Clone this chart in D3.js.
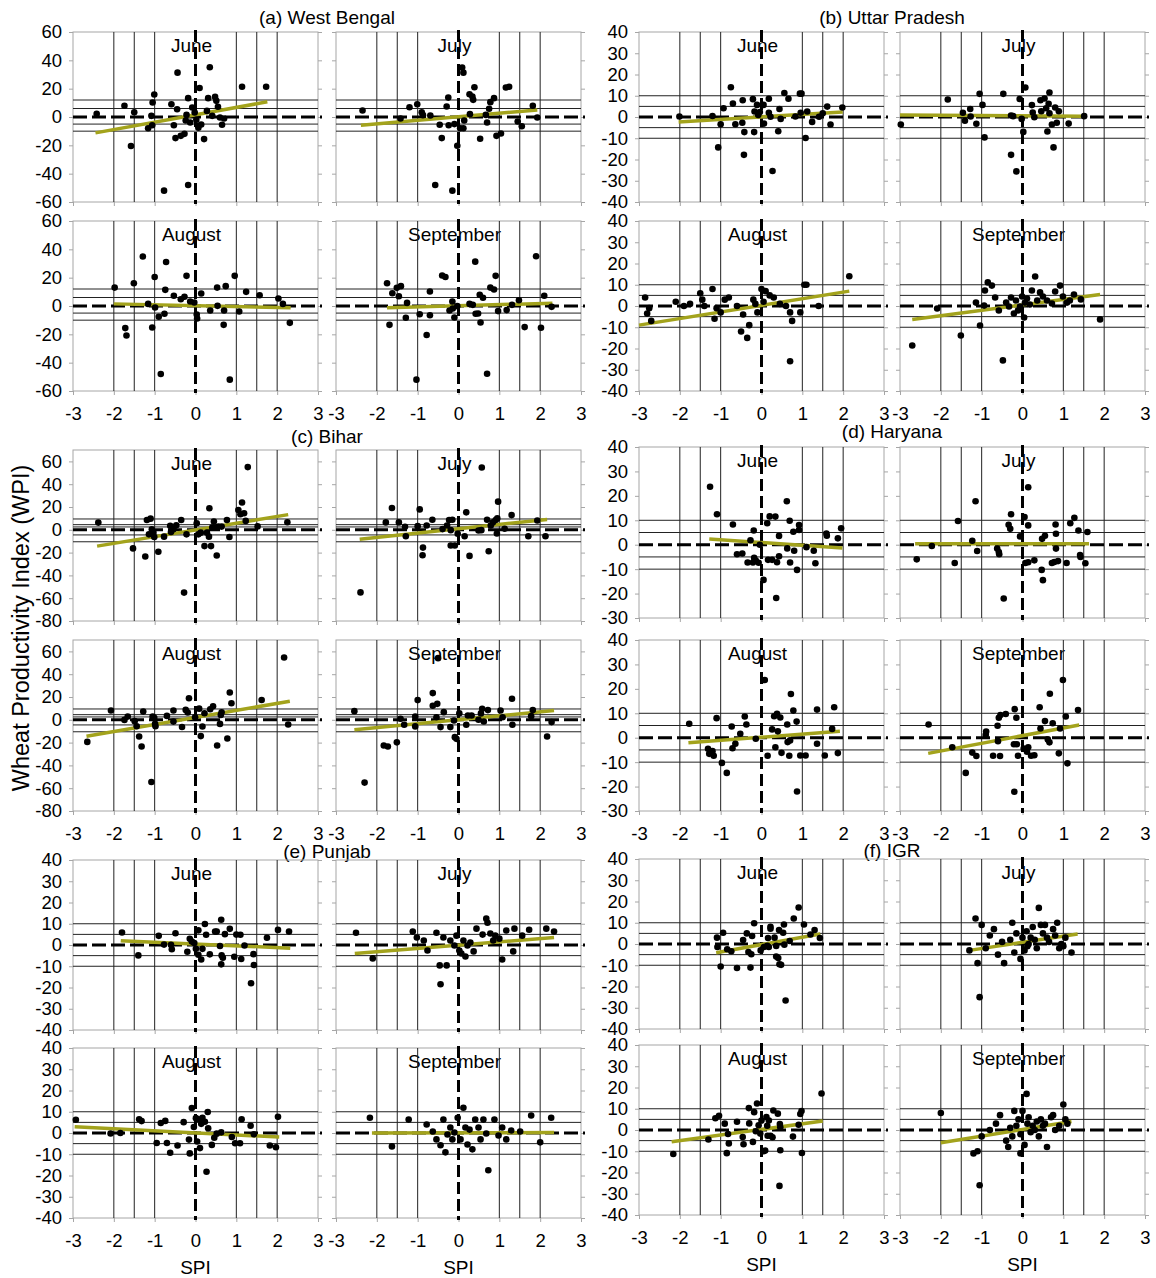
<!DOCTYPE html>
<html>
<head>
<meta charset="utf-8">
<script src="https://cdn.jsdelivr.net/npm/d3@7"></script>
<style>
  body { margin: 0; background: #fff; }
  svg text { font-family: "Liberation Sans", Arial, sans-serif; }
</style>
</head>
<body>
<svg id="chart" width="1156" height="1278"></svg>
<script>
/**************************************************
 * Data
 **************************************************/

const months = ["June", "July", "August", "September"];
const regionTitles = ["(a) West Bengal", "(b) Uttar Pradesh", "(c) Bihar", "(d) Haryana", "(e) Punjab", "(f) IGR"];
const spiTicks = [-3, -2, -1, 0, 1, 2, 3];
const spiLevels = [-2, -1.5, -1, 1, 1.5, 2];

// y ranges, tick labels and WPI threshold lines per region
const wbRange = [-60, 60], wbTicks = [-60, -40, -20, 0, 20, 40, 60], wbLevels = [12, 6, -5, -10];
const upRange = [-40, 40], upTicks = [-40, -30, -20, -10, 0, 10, 20, 30, 40], upLevels = [10, 5, -5, -10];
const biRange = [-80, 70], biTicks = [-80, -60, -40, -20, 0, 20, 40, 60], biLevels = [9.5, 4.5, 2.5, -4.5, -10.5];
const haRange = [-30, 40], haTicks = [-30, -20, -10, 0, 10, 20, 30, 40], haLevels = [10, 5, -5, -10];
const puRange = [-40, 40], puTicks = [-40, -30, -20, -10, 0, 10, 20, 30, 40], puLevels = [10, 5, -5, -10];
const igRange = [-40, 40], igTicks = [-40, -30, -20, -10, 0, 10, 20, 30, 40], igLevels = [10, 5, -5, -10];

// West Bengal [SPI, WPI]
const wbJune = [[-2.42,2.2],[-1.74,7.9],[-1.58,-20.5],[-1.5,3.4],[-1.16,-7.9],[-1.06,-5.8],[-1.08,0.8],[-1.05,10.2],[-1.01,15.9],[-0.77,-52],[-0.59,9],[-0.53,-5.8],[-0.45,5.5],[-0.44,31.3],[-0.49,-14.9],[-0.36,-13.3],[-0.27,-11.9],[-0.22,1.5],[-0.24,-2.5],[-0.18,13.3],[-0.18,-48],[-0.13,-3.9],[-0.08,6.7],[-0.02,3.2],[0.02,-2],[0.07,-6.2],[0.1,20.5],[0.07,-7.6],[0.14,-5.3],[0.21,-15.6],[0.28,4.3],[0.31,13.3],[0.35,35.1],[0.41,0.8],[0.48,14.2],[0.51,11.4],[0.55,7.2],[0.6,-0.4],[0.65,-5.5],[0.7,-1.1],[1.14,21.3],[1.73,21.3]];
const wbJuly = [[-2.35,4.6],[-1.42,-1.1],[-1.2,6.9],[-1.01,9],[-0.9,3.4],[-0.87,1.3],[-0.69,1.1],[-0.57,-48],[-0.46,-5.5],[-0.41,-14.9],[-0.29,7.4],[-0.25,13.7],[-0.24,-5.8],[-0.15,-52],[-0.1,-5],[-0.03,-20.3],[0.04,-7.9],[0.09,34.9],[0.12,31.3],[0.12,-7.9],[0.14,-2.5],[0.27,16.1],[0.28,2],[0.34,14.4],[0.36,12.1],[0.39,21],[0.53,-15.4],[0.67,1.5],[0.7,-3.9],[0.75,5.8],[0.78,10.5],[0.87,13.3],[0.93,-13.3],[1.04,-11.6],[1.16,20.8],[1.24,21.3],[1.45,-3.2],[1.55,-6.5],[1.82,7.9],[1.93,-0.4]];
const wbAug = [[-1.98,13],[-1.72,-15.6],[-1.69,-20.8],[-1.51,16.1],[-1.29,34.9],[-1.16,1.5],[-1.06,-15.2],[-1,20.5],[-0.99,-1.1],[-0.9,-7.6],[-0.85,-48],[-0.76,-5.5],[-0.74,11.4],[-0.72,31.1],[-0.53,7.2],[-0.36,4.8],[-0.27,6.5],[-0.22,21.3],[-0.13,3.2],[-0.03,2.5],[0.03,-6],[0.04,-8.8],[0.14,8.8],[0.36,-3.2],[0.53,13],[0.54,0.1],[0.69,-13.3],[0.7,-3.2],[0.74,14],[0.84,-52],[0.96,21.3],[1.07,-3.9],[1.24,10],[1.57,7.6],[2.03,5.3],[2.14,1.5],[2.31,-11.9]];
const wbSep = [[-1.75,16.1],[-1.69,-13.3],[-1.62,9],[-1.51,12.8],[-1.46,6.9],[-1.41,14],[-1.26,2.2],[-1.29,-8.3],[-1.03,-52],[-0.95,-5.8],[-0.78,-20.5],[-0.7,-6.5],[-0.7,10.2],[-0.4,21.5],[-0.32,20.5],[-0.22,-3.2],[-0.15,3.2],[-0.14,-1.8],[-0.1,-8.1],[-0.03,-0.1],[0.27,1.5],[0.35,0.8],[0.41,31.3],[0.42,-5.5],[0.48,-5.3],[0.52,7.9],[0.54,-11.6],[0.6,5.8],[0.7,-47.8],[0.78,13],[0.87,11.6],[0.91,21.3],[0.97,-3.6],[1.18,-2.9],[1.31,0.8],[1.48,4.1],[1.62,-14.9],[1.9,35.1],[2.02,-15.4],[2.1,7.2],[2.28,-0.6]];
const wbTrend = [[-2.45,-11.2,1.76,10.7],[-2.39,-5.8,1.93,5.0],[-2.0,1.5,2.33,-1.3],[-1.75,-1.3,2.3,2.0]];

// Uttar Pradesh
const upJune = [[-2.01,0.2],[-1.2,0.5],[-1.06,-14.3],[-1,-3.4],[-0.93,4.1],[-0.75,14],[-0.7,6.3],[-0.64,-3.4],[-0.47,-2.7],[-0.46,7.9],[-0.43,-17.8],[-0.42,-7.1],[-0.21,8.4],[-0.18,-7.1],[-0.17,2.6],[-0.11,5.7],[-0.08,1],[-0.04,2.3],[0.05,5.7],[0.06,-3.1],[0.18,8.6],[0.18,2],[0.22,0.1],[0.27,-25.4],[0.41,-6.7],[0.44,3.8],[0.47,-0.9],[0.56,11.3],[0.66,8.6],[0.83,0.2],[0.94,11],[0.98,11],[0.96,2],[1.08,-9.9],[1.12,2.6],[1.24,-2.3],[1.41,0.1],[1.5,1.8],[1.61,4.9],[1.69,-3.5],[1.98,4.5]];
const upJuly = [[-2.98,-3.5],[-1.83,8.2],[-1.46,2],[-1.41,-1.8],[-1.28,3.8],[-1.27,0.2],[-1.13,-3.2],[-1.05,10.9],[-0.98,5.7],[-0.93,-9.6],[-0.47,10.9],[-0.28,-17.8],[-0.28,0.7],[-0.23,0.4],[-0.15,-25.6],[-0.07,8.5],[-0.02,-0.9],[0.02,-7],[0.07,13.9],[0.23,5.6],[0.25,2.1],[0.29,-0.1],[0.44,7.9],[0.46,2.7],[0.54,8.7],[0.58,4.1],[0.61,-6.8],[0.64,6.2],[0.66,11.5],[0.66,1.8],[0.72,-3.5],[0.76,-14.3],[0.8,4.5],[0.84,-2.7],[0.89,2.7],[1.13,-3.1],[1.51,0.4]];
const upAug = [[-2.85,4],[-2.8,-3.5],[-2.75,-1],[-2.7,-7],[-2.1,2],[-1.9,0],[-1.75,1],[-1.5,6],[-1.45,3],[-1.4,0],[-1.2,8],[-1.15,-6],[-1.1,-1],[-1,-3],[-0.9,3],[-0.8,4],[-0.6,0],[-0.5,-12],[-0.45,-4],[-0.35,-15],[-0.3,-9],[-0.2,3],[-0.15,1],[-0.1,-3],[0,8],[0.05,2],[0.1,7],[0.2,5],[0.3,4],[0.45,1],[0.6,0],[0.7,-3],[0.75,-7],[0.7,-26],[0.95,-3],[1.05,10],[1.1,10],[1.4,0],[2.15,14]];
const upSep = [[-2.7,-18.6],[-2.09,-1.2],[-1.51,-13.9],[-1.14,1.6],[-1.04,-9.2],[-0.94,0.2],[-0.92,7.3],[-0.85,11.1],[-0.75,9.6],[-0.67,4],[-0.58,-2.1],[-0.48,-25.6],[-0.4,1.6],[-0.33,-0.2],[-0.28,4],[-0.21,-3.5],[-0.16,2.6],[-0.11,-2.1],[-0.06,-0.2],[-0.01,4.5],[0.04,-5.4],[0.06,1.6],[0.11,3.5],[0.18,0.7],[0.23,7.3],[0.31,13.9],[0.36,2.6],[0.43,6.4],[0.5,4.5],[0.6,2.6],[0.72,1.2],[0.8,6.8],[0.92,9.6],[0.99,4.5],[1.09,1.6],[1.16,2.6],[1.26,5.4],[1.43,3.1],[1.9,-6.3]];
const upTrend = [[-2.03,-2.3,1.99,2.4],[-3,0.9,1.51,0.4],[-3,-9,2.15,7],[-2.7,-6.4,1.9,5.4]];

// Bihar
const biJune = [[-2.38,6.3],[-1.53,-16.3],[-1.23,-23.4],[-1.19,8.6],[-1.1,9.8],[-1.14,-4],[-1.07,0.4],[-1.03,-2.5],[-1.01,-6.3],[-0.91,-19.3],[-0.77,-6],[-0.62,3.6],[-0.6,-1.9],[-0.54,0.4],[-0.47,3.9],[-0.35,8.6],[-0.28,-55.1],[-0.22,-4],[0.03,5.7],[0.07,-4],[0.13,-2.5],[0.22,-14.3],[0.28,-2.5],[0.34,18.9],[0.33,-6],[0.38,-14.3],[0.41,1.9],[0.45,7.2],[0.49,1.9],[0.52,-22.5],[0.56,2.8],[0.64,2.8],[0.77,8.6],[0.83,-6.3],[1.05,17.4],[1.1,13.6],[1.14,23.9],[1.19,14.5],[1.23,7.8],[1.28,55],[1.52,3],[2.25,6.6]];
const biJuly = [[-2.4,-54.9],[-1.78,6.5],[-1.63,19.1],[-1.46,6.5],[-1.31,2.6],[-1.29,-5.6],[-1,3.2],[-0.95,17.9],[-0.87,-15.6],[-0.88,-22.3],[-0.78,3.8],[-0.64,8.8],[-0.39,0.6],[-0.28,3.8],[-0.23,8.5],[-0.19,-0.3],[-0.19,-13.8],[-0.15,8.8],[-0.09,-13.8],[-0.02,-3.5],[0.15,-5.6],[0.19,15.3],[0.27,-22.9],[0.49,-0.6],[0.56,-0.3],[0.57,54.6],[0.7,8.8],[0.74,-18.8],[0.79,3.8],[0.84,6.5],[0.91,8.5],[0.94,-3.2],[0.95,10],[0.97,24.7],[1.13,0.9],[1.3,12.9],[1.71,-5.6],[1.93,8.2],[2.13,-5.6]];
const biAug = [[-2.65,-19.4],[-2.07,8.1],[-1.74,-0.1],[-1.66,2.8],[-1.49,-1.2],[-1.44,-5.6],[-1.38,-14.6],[-1.32,-23.4],[-1.28,7.2],[-1.08,-54.6],[-1.05,2.8],[-1.01,1.7],[-0.99,-3.6],[-0.98,-5.6],[-0.7,3.4],[-0.54,-1.6],[-0.54,8.1],[-0.33,-6.3],[-0.24,8.7],[-0.19,6.4],[-0.16,18.9],[-0.01,2.3],[0.09,9.8],[0.13,-14.3],[0.17,-5.9],[0.22,5.8],[0.36,9.2],[0.43,11.9],[0.53,-22.5],[0.6,-3.6],[0.62,4.3],[0.64,6.6],[0.78,-16.4],[0.84,23.9],[0.88,14.5],[1.62,17.4],[2.17,54.7],[2.27,-4.1]];
const biSep = [[-2.55,7.6],[-2.3,-55.1],[-1.83,-22.5],[-1.73,-23.4],[-1.51,-19.8],[-1.42,0.9],[-1.33,-4.4],[-1.06,-5.8],[-1.06,2.9],[-1,17.3],[-0.63,23.4],[-0.63,12.3],[-0.54,2.3],[-0.52,14],[-0.5,54.1],[-0.44,-6.4],[-0.36,6.7],[-0.2,-6.4],[-0.11,-0.6],[-0.09,-15.2],[-0.05,-16.7],[0.02,5.8],[0.19,-4.4],[0.23,3.8],[0.32,3.8],[0.49,0],[0.55,5.6],[0.58,9.6],[0.62,-1.5],[0.72,8.5],[1.03,8.2],[1.08,2.3],[1.31,18.4],[1.32,-4.4],[1.78,3.2],[1.82,8.5],[2.17,-14.6],[2.28,-2]];
const biTrend = [[-2.41,-14.3,2.27,13.3],[-2.42,-8.2,2.17,9.1],[-2.67,-14.4,2.31,16.3],[-2.55,-8.8,2.34,8.2]];

// Haryana
const haJune = [[-1.26,23.7],[-1.09,12.5],[-0.7,8.3],[-0.6,-3.9],[-0.47,-3.6],[-0.34,-7.3],[-0.27,1.8],[-0.21,-7.3],[-0.19,5.8],[-0.18,-5.4],[-0.14,-6.5],[-0.07,-7.4],[-0.04,0],[0.05,-14.4],[0.14,8.8],[0.16,-6.2],[0.2,11.6],[0.26,-6.2],[0.34,11.5],[0.36,-21.8],[0.38,-7.2],[0.43,-4.7],[0.43,3.6],[0.62,17.8],[0.63,-1.5],[0.69,9.8],[0.7,-7.3],[0.78,5.3],[0.8,-2.5],[0.87,-10.3],[0.92,8.1],[0.92,6],[1.1,-1],[1.28,-2.5],[1.32,-7.6],[1.59,4.6],[1.6,3.7],[1.87,2.6],[1.95,6.7]];
const haJuly = [[-2.59,-6],[-2.22,-0.5],[-1.66,-7.5],[-1.58,9.7],[-1.23,1.6],[-1.15,17.8],[-1.11,-2.6],[-0.62,-1.6],[-0.58,-3],[-0.57,-3.9],[-0.46,-22],[-0.34,8.2],[-0.3,6.5],[-0.28,12.5],[-0.06,3.4],[0.05,11.3],[0.14,23.5],[0.14,7.9],[0.07,-7.5],[0.14,-7.2],[0.29,-6.4],[0.47,-10.3],[0.48,2.4],[0.5,-14.5],[0.55,3.7],[0.72,-7.5],[0.78,-7.1],[0.82,-1.6],[0.82,4.5],[0.81,8.3],[0.87,-6.7],[1.08,-7.5],[1.17,8.8],[1.27,11],[1.37,5.8],[1.41,-4.2],[1.42,-5],[1.54,-7.6],[1.59,5.2]];
const haAug = [[-1.77,5.7],[-1.31,-4.5],[-1.28,-6.6],[-1.2,-5.5],[-1.17,-7.4],[-1.1,8],[-0.97,-10.3],[-0.85,-14.4],[-0.73,4.6],[-0.71,-4.3],[-0.64,-2.5],[-0.52,1.6],[-0.41,8.7],[-0.37,5.4],[-0.14,-0.4],[0.08,23.6],[0.15,-7.4],[0.26,3.4],[0.31,8.8],[0.34,-3.9],[0.38,9.8],[0.4,2.6],[0.46,8.3],[0.49,-6.2],[0.63,5.4],[0.64,-1.8],[0.68,-7.4],[0.7,-1.1],[0.72,17.9],[0.78,11.1],[0.86,6.6],[0.87,-22],[0.95,-7.3],[1.08,-7.3],[1.36,11.5],[1.36,-2.5],[1.55,-7.3],[1.73,3.6],[1.78,12.5],[1.87,-6.3]];
const haSep = [[-2.3,5.4],[-1.72,-3.9],[-1.23,-6.1],[-1.13,-7.5],[-1.39,-14.4],[-0.89,2.5],[-0.9,1.1],[-0.72,-7.4],[-0.55,-7.5],[-0.61,4.9],[-0.58,8.2],[-0.54,9.3],[-0.41,9.7],[-0.6,-1.4],[-0.19,11.7],[-0.2,-22.1],[-0.15,8.2],[-0.11,-7.4],[-0.21,-2.7],[-0.14,-2.7],[0.03,-4.4],[0.11,-5.7],[0.14,-3.9],[0.21,-7.4],[0.29,-7.2],[0.42,12.5],[0.44,3.8],[0.55,6.8],[0.62,-0.7],[0.66,-1.9],[0.67,18],[0.74,5.9],[0.89,-6.4],[0.92,3.8],[0.99,23.6],[1.06,8.7],[1.1,-10.5],[1.36,11.3]];
const haTrend = [[-1.28,2.3,1.98,-1.3],[-2.63,0.4,1.63,0.4],[-1.79,-2.1,1.92,2.6],[-2.31,-6.4,1.39,5.2]];

// Punjab
const puJune = [[-1.8,5.9],[-1.4,-4.9],[-0.9,4.3],[-0.77,0.2],[-0.6,0.1],[-0.58,-2],[-0.49,5.5],[-0.2,-3.2],[-0.14,2.9],[-0.09,1.6],[-0.03,0.9],[0.01,-1.8],[0.07,-4.6],[0.07,6.9],[0.14,-6.8],[0.17,-1.8],[0.23,9.9],[0.26,4.8],[0.35,-4.4],[0.48,6.3],[0.52,6.3],[0.6,-0.5],[0.63,11.9],[0.63,-9.1],[0.64,-4.9],[0.67,-6],[0.72,5.1],[0.84,7.6],[0.95,-5.5],[1,4.9],[1.1,4.8],[1.12,-6.6],[1.2,-0.2],[1.36,-18],[1.42,-4.3],[1.43,-9.4],[1.75,3.4],[2.02,7.1],[2.29,6.3]];
const puJuly = [[-2.51,5.8],[-2.1,-6.3],[-1.12,6.3],[-1.02,3.5],[-0.85,2.1],[-0.76,-2.6],[-0.54,5.8],[-0.46,-9.6],[-0.44,-18.5],[-0.37,3.5],[-0.29,-9.6],[-0.2,2.1],[-0.1,-0.2],[-0.05,4.4],[0.02,-2.6],[0.07,-4],[0.12,2.1],[0.17,-5.4],[0.22,-0.2],[0.29,1.2],[0.37,-3],[0.44,7.7],[0.59,4.9],[0.68,12.4],[0.71,10.5],[0.78,5.4],[0.85,2.1],[0.9,4.4],[1,3],[1.07,-6.8],[1.17,6.8],[1.34,-3],[1.37,7.7],[1.56,4.4],[1.73,7.2],[2.15,7.7],[2.34,6.3]];
const puAug = [[-2.93,6.2],[-2.08,-0.2],[-1.84,0],[-1.38,6.5],[-1.32,5.6],[-0.95,-4.7],[-0.85,4.7],[-0.74,5.7],[-0.7,-4.7],[-0.62,-9.3],[-0.44,-5.9],[-0.29,5.1],[-0.16,-3.1],[-0.14,-9.6],[-0.09,11.8],[-0.04,2.8],[0.01,7],[0.04,-4],[0.07,6.5],[0.11,-7.1],[0.14,4.3],[0.17,7.1],[0.23,5.3],[0.27,-18.2],[0.3,9.9],[0.31,2.2],[0.4,-5.6],[0.46,-2.2],[0.52,-0.3],[0.63,0.3],[0.89,-1.9],[0.97,-4.8],[1.09,-4.8],[1.13,6.5],[1.35,3.4],[1.43,-0.6],[1.82,-5.9],[1.97,-6.7],[2.02,7.6]];
const puSep = [[-2.17,7.2],[-1.63,-6.3],[-1.22,6.3],[-0.78,4],[-0.63,0.7],[-0.54,-3],[-0.44,-5.8],[-0.37,6.3],[-0.32,-9.1],[-0.27,-0.7],[-0.2,2.6],[-0.15,-3],[-0.1,0.2],[-0.02,7.2],[0.05,-3],[0.12,11.9],[0.17,2.6],[0.22,-5.4],[0.27,1.6],[0.34,-7.7],[0.41,6.3],[0.49,2.6],[0.54,-3],[0.61,6.3],[0.68,-0.2],[0.73,-17.5],[0.88,6.3],[0.98,-1.2],[1.07,2.6],[1.17,-3],[1.29,1.2],[1.51,0.7],[1.78,8.2],[2,-4.4],[2.27,7.2]];
const puTrend = [[-1.83,2.0,2.32,-1.5],[-2.54,-4.0,2.34,3.5],[-2.96,2.9,2.05,-1.9],[-2.12,0,2.34,0.2]];

// IGR
const igJune = [[-1.09,3],[-1.08,-1.4],[-1,-10.6],[-0.94,5.3],[-0.84,-2.5],[-0.74,-3.4],[-0.6,-11.3],[-0.45,1.9],[-0.36,5],[-0.32,-3.8],[-0.27,-11.1],[-0.23,3.8],[-0.25,-4.8],[-0.18,9.8],[-0.02,-3],[0.06,-1.4],[0.14,-0.9],[0.16,2.8],[0.18,-1.4],[0.22,8.1],[0.22,7.2],[0.32,3],[0.36,-0.9],[0.36,-5.9],[0.41,-6.6],[0.44,-9.5],[0.48,-9.8],[0.43,6.6],[0.53,5.3],[0.55,9.2],[0.59,-26.6],[0.56,-0.3],[0.69,1.4],[0.79,12],[0.91,17.2],[1.04,9.2],[1.2,4.5],[1.3,6.6],[1.43,2.8]];
const igJuly = [[-1.3,-3],[-1.15,12],[-1,9],[-1.1,-9],[-1.05,-25],[-0.9,-2],[-0.8,4],[-0.7,7],[-0.6,-5],[-0.5,1],[-0.45,-9],[-0.3,2],[-0.25,10],[-0.2,-4],[-0.15,5],[-0.05,-7],[0,3],[0.05,-3],[0.1,6],[0.12,-1],[0.15,0],[0.2,3],[0.25,8],[0.3,2],[0.35,-2],[0.4,17],[0.45,9],[0.5,5],[0.55,9],[0.6,3],[0.65,1],[0.75,7],[0.8,4],[0.85,10],[0.9,-2],[1,-1],[1.05,3],[1.2,-4],[0.95,0]];
const igAug = [[-2.16,-11.3],[-1.3,-4.5],[-1.13,5.5],[-1.04,6.7],[-0.9,3],[-0.85,-10.9],[-0.82,-1.9],[-0.8,-6.3],[-0.6,3.9],[-0.46,-3.3],[-0.44,-6.7],[-0.3,3.1],[-0.31,10.3],[-0.21,-5.6],[-0.18,8.4],[-0.14,-0.6],[-0.11,12.5],[-0.07,2.2],[-0.03,-1.7],[0,4.5],[0.05,-10],[0.09,-9.7],[0.12,6.1],[0.14,2],[0.15,-2.7],[0.18,4.5],[0.22,-2.7],[0.27,-3.4],[0.29,9.2],[0.4,7.7],[0.44,-26.3],[0.45,2.8],[0.46,-9.5],[0.46,1.3],[0.77,-3.1],[0.91,2.5],[0.95,7.5],[0.98,8.9],[0.99,-10.8],[1.47,17.2]];
const igSep = [[-2,8],[-1.2,-11],[-1.05,-26],[-1.1,-10],[-1,-3],[-0.8,0],[-0.65,3],[-0.55,7],[-0.4,-5],[-0.35,-8],[-0.3,1],[-0.25,-3],[-0.2,9],[-0.15,2],[-0.1,5],[-0.05,-2],[0,9],[0.05,-7],[0.1,17],[0.12,3],[0.15,6],[0.2,-1],[0.25,2],[0.3,0],[0.35,4],[0.4,-3],[0.45,5],[0.5,2],[0.55,3],[0.6,-8],[0.7,6],[0.75,7],[0.8,0],[0.9,2],[1,12],[1.05,5],[1.1,3],[-0.05,-11]];
const igTrend = [[-1.11,-4.1,1.44,4.7],[-1.3,-3,1.35,4.7],[-2.2,-5.5,1.5,4.2],[-2.0,-6.0,1.2,4.0]];

/**************************************************
 * Layout
 **************************************************/

const regions = [
  { title: regionTitles[0], range: wbRange, ticks: wbTicks, levels: wbLevels, pts: [wbJune, wbJuly, wbAug, wbSep], trend: wbTrend, col: 0, tops: [32, 221], h: 170, titleY: 24 },
  { title: regionTitles[1], range: upRange, ticks: upTicks, levels: upLevels, pts: [upJune, upJuly, upAug, upSep], trend: upTrend, col: 1, tops: [32, 221], h: 170, titleY: 24 },
  { title: regionTitles[2], range: biRange, ticks: biTicks, levels: biLevels, pts: [biJune, biJuly, biAug, biSep], trend: biTrend, col: 0, tops: [450, 640], h: 171, titleY: 443 },
  { title: regionTitles[3], range: haRange, ticks: haTicks, levels: haLevels, pts: [haJune, haJuly, haAug, haSep], trend: haTrend, col: 1, tops: [447, 640], h: 171, titleY: 438 },
  { title: regionTitles[4], range: puRange, ticks: puTicks, levels: puLevels, pts: [puJune, puJuly, puAug, puSep], trend: puTrend, col: 0, tops: [860, 1048], h: 170, titleY: 858 },
  { title: regionTitles[5], range: igRange, ticks: igTicks, levels: igLevels, pts: [igJune, igJuly, igAug, igSep], trend: igTrend, col: 1, tops: [859, 1045], h: 170, titleY: 857 }
];

const colX = [[73, 336], [639, 900]];
const panelW = 245;
const frameGrey = "#a6a6a6";
const trendColor = "#a3a31c";
const plainNum = d => String(d);   // hyphen-minus like the original

const svg = d3.select("#chart");

function styleAxis(g, fontSize) {
  g.attr("font-family", "Liberation Sans, Arial, sans-serif").attr("font-size", fontSize);
  g.select(".domain").remove();
  g.selectAll(".tick line").attr("stroke", frameGrey);
  g.selectAll(".tick text").attr("fill", "#000");
}

/**************************************************
 * Rendering
 **************************************************/

regions.forEach(reg => {
  const cx = colX[reg.col];
  svg.append("text")
    .attr("x", (cx[0] + cx[1] + panelW) / 2)
    .attr("y", reg.titleY)
    .attr("text-anchor", "middle")
    .attr("font-size", 19)
    .text(reg.title);

  months.forEach((m, mi) => {
    const row = Math.floor(mi / 2), c = mi % 2;
    const x0 = cx[c], y0 = reg.tops[row], h = reg.h;
    const x = d3.scaleLinear().domain([-3, 3]).range([x0, x0 + panelW]);
    const y = d3.scaleLinear().domain(reg.range).range([y0 + h, y0]);
    const g = svg.append("g");

    // frame
    g.append("rect")
      .attr("x", x0).attr("y", y0).attr("width", panelW).attr("height", h)
      .attr("fill", "none").attr("stroke", frameGrey).attr("stroke-width", 1);

    // axes
    const ya = g.append("g").attr("transform", `translate(${x0},0)`)
      .call(d3.axisLeft(y).tickValues(reg.ticks).tickSize(4).tickPadding(7)
        .tickFormat(c === 0 ? plainNum : () => ""));
    styleAxis(ya, 18.5);
    const yr = g.append("g").attr("transform", `translate(${x0 + panelW},0)`)
      .call(d3.axisRight(y).tickValues(reg.ticks).tickSize(4).tickFormat(() => ""));
    styleAxis(yr, 18.5);
    const xa = g.append("g").attr("transform", `translate(0,${y0 + h})`)
      .call(d3.axisBottom(x).tickValues(spiTicks).tickSize(4).tickPadding(12)
        .tickFormat(row === 1 ? plainNum : () => ""));
    styleAxis(xa, 18.5);

    // month label
    g.append("text")
      .attr("x", x(0) - 4)
      .attr("y", y0 + 20)
      .attr("text-anchor", "middle")
      .attr("font-size", 19)
      .text(m);

    // SPI threshold lines
    g.selectAll(".vlev").data(spiLevels).join("line")
      .attr("x1", d => x(d)).attr("x2", d => x(d))
      .attr("y1", y0).attr("y2", y0 + h)
      .attr("stroke", "#222").attr("stroke-width", 1);

    // WPI threshold lines
    g.selectAll(".hlev").data(reg.levels).join("line")
      .attr("x1", x0).attr("x2", x0 + panelW)
      .attr("y1", d => y(d)).attr("y2", d => y(d))
      .attr("stroke", "#222").attr("stroke-width", 1);

    // zero lines (dashed)
    g.append("line")
      .attr("x1", x0).attr("x2", x0 + panelW + 4)
      .attr("y1", y(0)).attr("y2", y(0))
      .attr("stroke", "#000").attr("stroke-width", 3)
      .attr("stroke-dasharray", "14,5");
    g.append("line")
      .attr("x1", x(0)).attr("x2", x(0))
      .attr("y1", y0 - 2).attr("y2", y0 + h + 2)
      .attr("stroke", "#000").attr("stroke-width", 3)
      .attr("stroke-dasharray", "12,5");

    // trend line
    const t = reg.trend[mi];
    g.append("line")
      .attr("x1", x(t[0])).attr("y1", y(t[1]))
      .attr("x2", x(t[2])).attr("y2", y(t[3]))
      .attr("stroke", trendColor).attr("stroke-width", 3.5);

    // points
    g.selectAll(".pt").data(reg.pts[mi]).join("circle")
      .attr("class", "pt")
      .attr("cx", d => x(d[0]))
      .attr("cy", d => y(d[1]))
      .attr("r", 3.3)
      .attr("fill", "#000");

    // SPI axis title under the bottom row of the figure
    if (row === 1 && reg.tops[1] > 1000) {
      svg.append("text")
        .attr("x", x(0))
        .attr("y", y0 + h + 56)
        .attr("text-anchor", "middle")
        .attr("font-size", 19)
        .text("SPI");
    }
  });
});

svg.append("text")
  .attr("transform", "translate(29,628) rotate(-90)")
  .attr("text-anchor", "middle")
  .attr("font-size", 23.5)
  .text("Wheat Productivity Index (WPI)");
</script>
</body>
</html>
